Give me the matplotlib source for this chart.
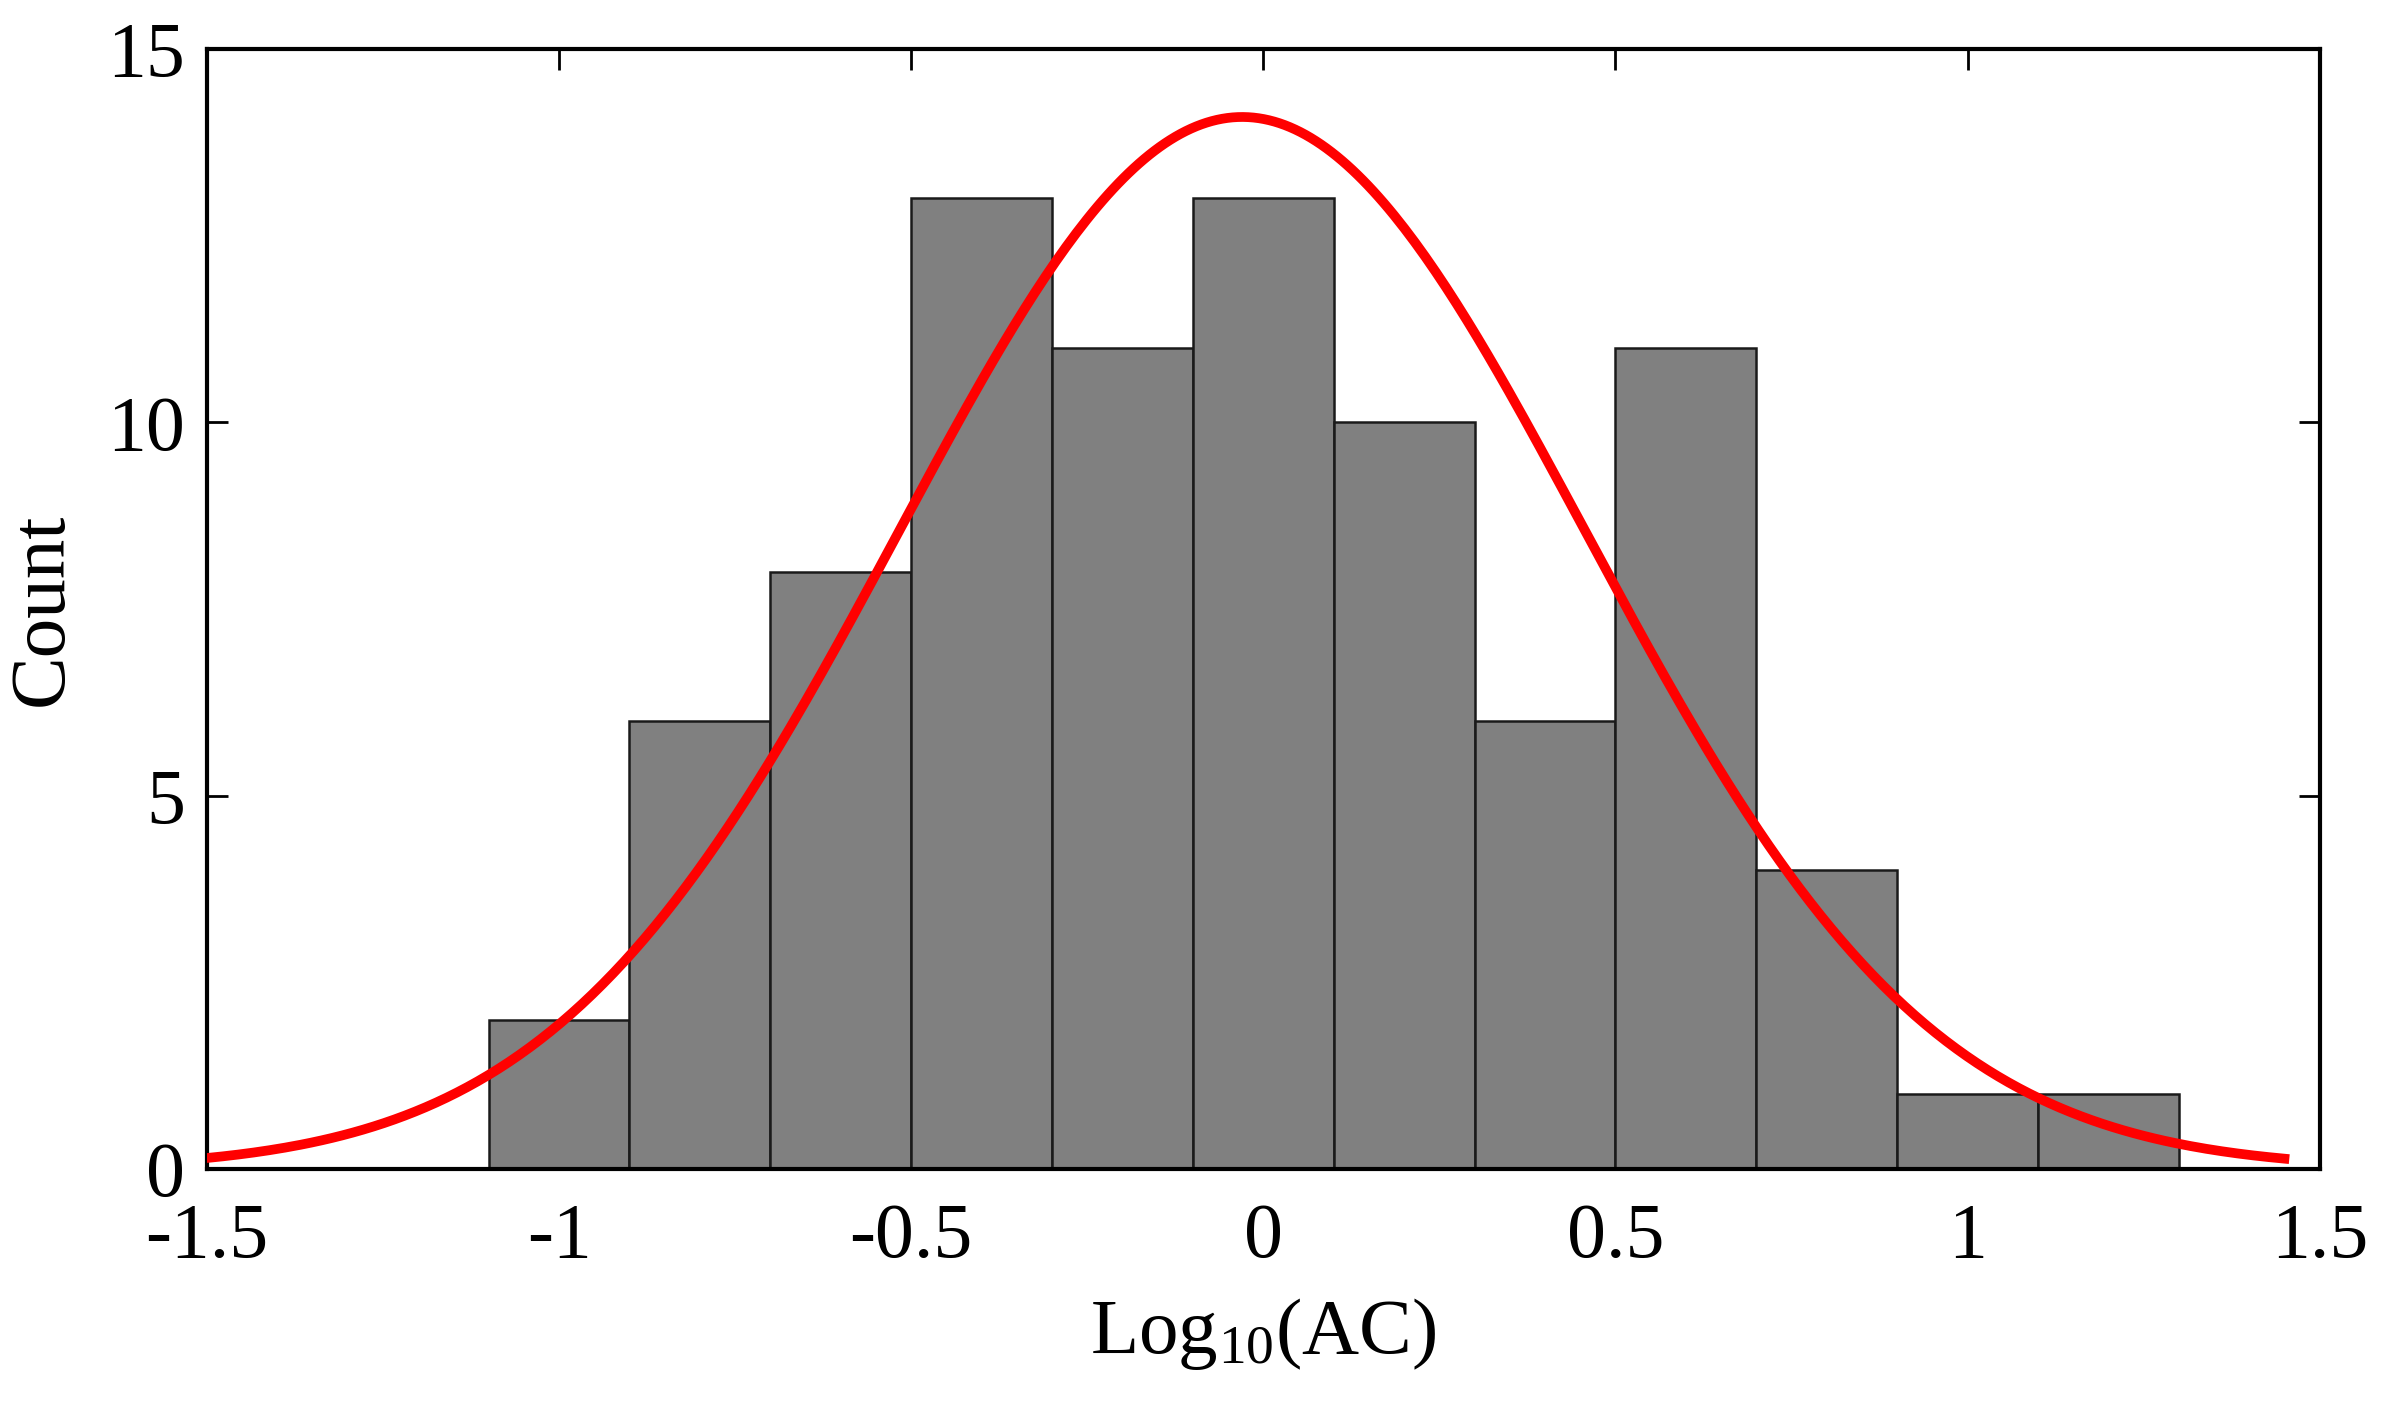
import numpy as np
import matplotlib
matplotlib.use('Agg')
import matplotlib.pyplot as plt

# histogram of log10(AC)
bin_edges = [-1.1, -0.9, -0.7, -0.5, -0.3, -0.1, 0.1, 0.3, 0.5, 0.7, 0.9, 1.1, 1.3]
counts = [2, 6, 8, 13, 11, 13, 10, 6, 11, 4, 1, 1]

# normal fit
fit_mu = -0.03
fit_sigma = 0.487
fit_range = (-1.5, 1.45)

x_ticks = [-1.5, -1, -0.5, 0, 0.5, 1, 1.5]
x_tick_labels = ['-1.5', '-1', '-0.5', '0', '0.5', '1', '1.5']
y_ticks = [0, 5, 10, 15]

plt.rcParams['font.family'] = ['Liberation Serif', 'DejaVu Serif']
plt.rcParams['mathtext.fontset'] = 'custom'
plt.rcParams['mathtext.rm'] = 'Liberation Serif'
plt.rcParams['mathtext.default'] = 'rm'
plt.rcParams['axes.unicode_minus'] = False

fig = plt.figure(figsize=(23.84, 14.09), dpi=100)
ax = fig.add_axes([0.0868, 0.1703, 0.8862, 0.7949])

widths = np.diff(bin_edges)
ax.bar(bin_edges[:-1], counts, width=widths, align='edge',
       color='#808080', edgecolor='#1a1a1a', linewidth=1.8, zorder=2)

n_total = sum(counts)
bw = widths[0]
xs = np.linspace(fit_range[0], fit_range[1], 400)
ys = n_total * bw / (fit_sigma * np.sqrt(2 * np.pi)) * np.exp(-(xs - fit_mu) ** 2 / (2 * fit_sigma ** 2))
ax.plot(xs, ys, color='red', linewidth=7, zorder=3)

ax.set_xlim(-1.5, 1.5)
ax.set_ylim(0, 15)
ax.set_xticks(x_ticks)
ax.set_xticklabels(x_tick_labels)
ax.set_yticks(y_ticks)

ax.tick_params(direction='in', length=15, width=2, labelsize=56,
               top=True, right=True)
ax.tick_params(axis='x', pad=24)
ax.tick_params(axis='y', pad=16)
for s in ax.spines.values():
    s.set_linewidth(3)

ax.set_xlabel('Log$_{10}$(AC)', fontsize=57, labelpad=16)
ax.set_ylabel('Count', fontsize=57, labelpad=20)

fig.savefig('out.png', dpi=100)
